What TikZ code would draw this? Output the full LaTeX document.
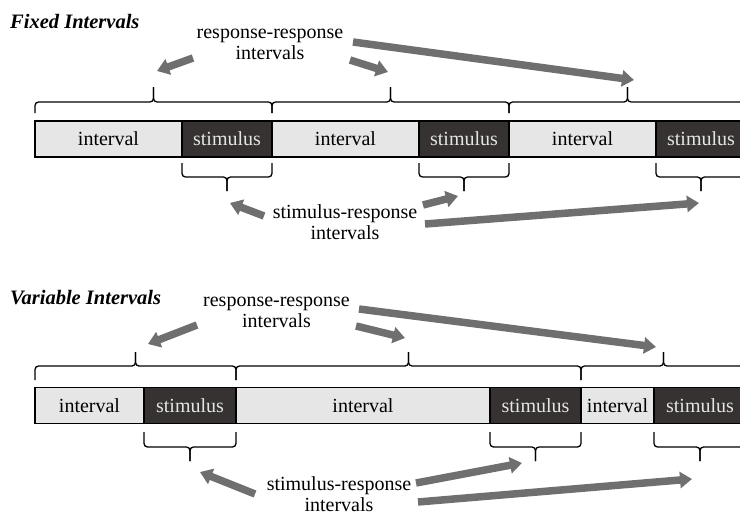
\documentclass[tikz,border=0pt]{standalone}
\usepackage{fontspec}
\setmainfont{Liberation Serif}
\usetikzlibrary{arrows.meta}
\definecolor{ifill}{HTML}{E6E6E6}
\definecolor{sfill}{HTML}{363231}
\definecolor{agray}{HTML}{6F6F6F}
\tikzset{
 seg/.style={draw=black, line width=1.3pt, minimum height=36pt, inner sep=0pt, outer sep=0pt, font=\fontsize{20}{22}\selectfont},
 ivl/.style={seg, fill=ifill, text=black},
 stim/.style={seg, fill=sfill, text=white!90!black},
 lbl/.style={align=center, font=\fontsize{20}{21}\selectfont, inner sep=0pt},
 ttl/.style={font=\fontsize{20.5}{22}\selectfont\bfseries\itshape, inner sep=0pt, anchor=base west},
 blk/.style={draw=agray, line width=7.5pt, -{Triangle[width=16pt,length=12pt]}},
 brc/.style={draw=black, line width=1.3pt, rounded corners=3.5pt},
}
\newcommand\mybrc[6]{%
  \draw[brc] (#1,#4) |- (#3,#5) -- (#3,#6);
  \draw[brc] (#2,#4) |- (#3,#5) -- (#3,#6);}
\begin{document}
\begin{tikzpicture}[x=1pt,y=-1pt]
\useasboundingbox (0,0) rectangle (740,517);
\clip (0,0) rectangle (740,517);

% ---------- Fixed intervals ----------
\node[ttl] (tfix) at (10,28) {Fixed Intervals};
\node[lbl] (rrf) at (270,44) {response-response\\intervals};

\node[ivl, minimum width=147pt] (fi1) at (108.5,139) {interval};
\node[stim, minimum width=90pt] (fs1) at (227,139) {stimulus};
\node[ivl, minimum width=147pt] (fi2) at (345.5,139) {interval};
\node[stim, minimum width=90pt] (fs2) at (464,139) {stimulus};
\node[ivl, minimum width=147pt] (fi3) at (582.5,139) {interval};
\node[stim, minimum width=90pt] (fs3) at (701,139) {stimulus};

\mybrc{35}{272}{153.5}{113}{102}{87}
\mybrc{272}{509}{390.5}{113}{102}{87}
\mybrc{509}{746}{627.5}{113}{102}{87}

\mybrc{182}{272}{227}{163}{177}{191}
\mybrc{419}{509}{464}{163}{177}{191}
\mybrc{656}{746}{701}{163}{177}{191}

\node[lbl] (srf) at (345,222) {stimulus-response\\intervals};

\coordinate (a1s) at (193,58);  \coordinate (a1e) at (157,71);
\coordinate (a2s) at (350,60);  \coordinate (a2e) at (388,72);
\coordinate (a3s) at (353,42);  \coordinate (a3e) at (634,80);
\draw[blk] (a1s) -- (a1e);
\draw[blk] (a2s) -- (a2e);
\draw[blk] (a3s) -- (a3e);

\coordinate (b1s) at (264,216); \coordinate (b1e) at (230,203);
\coordinate (b2s) at (423,205); \coordinate (b2e) at (458,196);
\coordinate (b3s) at (425,224); \coordinate (b3e) at (699,203);
\draw[blk] (b1s) -- (b1e);
\draw[blk] (b2s) -- (b2e);
\draw[blk] (b3s) -- (b3e);

% ---------- Variable intervals ----------
\node[ttl] (tvar) at (10,304) {Variable Intervals};
\node[lbl] (rrv) at (276.5,312) {response-response\\intervals};

\node[ivl, minimum width=109pt] (vi1) at (89.5,405.5) {interval};
\node[stim, minimum width=92pt] (vs1) at (190,405.5) {stimulus};
\node[ivl, minimum width=254pt] (vi2) at (363,405.5) {interval};
\node[stim, minimum width=91pt] (vs2) at (535.5,405.5) {stimulus};
\node[ivl, minimum width=73pt] (vi3) at (617.5,405.5) {interval};
\node[stim, minimum width=92pt] (vs3) at (700,405.5) {stimulus};

\mybrc{35}{236}{135.5}{380}{366}{352}
\mybrc{236}{581}{408.5}{380}{366}{352}
\mybrc{581}{746}{663.5}{380}{366}{352}

\mybrc{144}{236}{190}{432}{447}{461}
\mybrc{490}{581}{535.5}{432}{447}{461}
\mybrc{654}{746}{700}{432}{447}{461}

\node[lbl] (srv) at (339,494) {stimulus-response\\intervals};

\coordinate (c1s) at (197,325); \coordinate (c1e) at (148,344);
\coordinate (c2s) at (356,326); \coordinate (c2e) at (405,338);
\coordinate (c3s) at (359,309); \coordinate (c3e) at (656,347);
\draw[blk] (c1s) -- (c1e);
\draw[blk] (c2s) -- (c2e);
\draw[blk] (c3s) -- (c3e);

\coordinate (d1s) at (255,494); \coordinate (d1e) at (200,472);
\coordinate (d2s) at (416,483); \coordinate (d2e) at (522,463);
\coordinate (d3s) at (418,502); \coordinate (d3e) at (692,479);
\draw[blk] (d1s) -- (d1e);
\draw[blk] (d2s) -- (d2e);
\draw[blk] (d3s) -- (d3e);
\end{tikzpicture}
\end{document}
